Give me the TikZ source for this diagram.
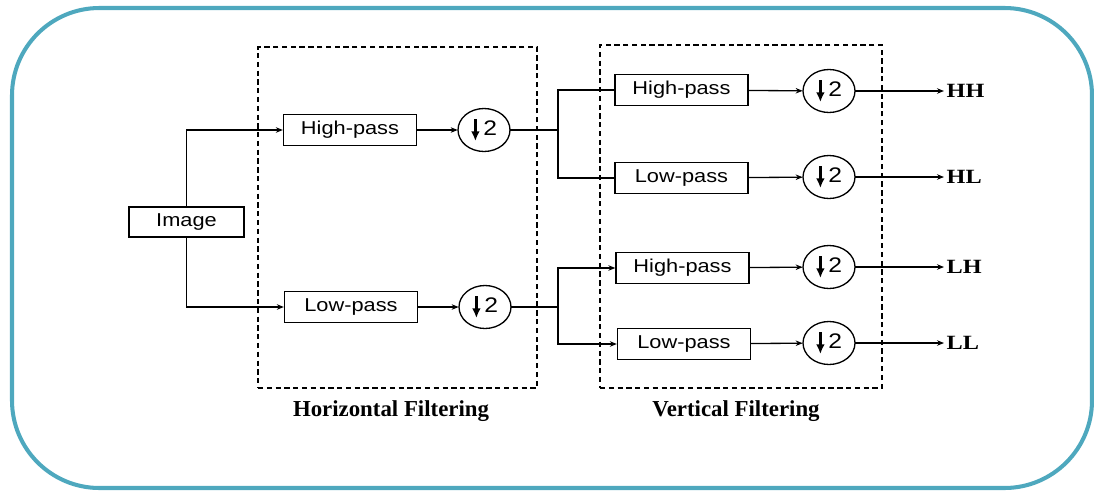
\documentclass[tikz,border=0pt]{standalone}
\usepackage{fontspec}
\setmainfont{Liberation Serif}
\newfontfamily\boxfont[FakeStretch=1.17]{Liberation Sans}
\newfontfamily\labfont[FakeStretch=1.2]{Liberation Serif}
\usetikzlibrary{arrows.meta,shapes.geometric}
\definecolor{frame}{RGB}{78,168,190}
\newcommand{\dsarrow}{\tikz[baseline=0pt]\draw[line width=1.4pt,-{Latex[length=5.5pt,width=5pt]}] (0pt,9.5pt) -- (0pt,-3pt);}
\begin{document}
\begin{tikzpicture}[x=0.02cm,y=-0.02cm,
  line width=0.75pt,
  arr/.style={-{Stealth[length=0.14cm,width=0.11cm]}},
  filt/.style={draw,minimum width=2.66cm,minimum height=0.62cm,inner sep=0pt,
    font=\boxfont\fontsize{10.6}{12}\selectfont},
  down/.style={draw,ellipse,minimum width=1.04cm,minimum height=0.86cm,inner sep=0pt,
    font=\boxfont\fontsize{12}{12}\selectfont},
  outlab/.style={anchor=west,inner sep=0.04cm,font=\labfont\bfseries\fontsize{11.5}{14}\selectfont},
  grouplab/.style={font=\bfseries\fontsize{13}{15}\selectfont},
  group/.style={draw,dashed,dash pattern=on 3pt off 2pt,line width=0.8pt}]
\useasboundingbox (0,0) rectangle (1094,490);
\draw[frame,line width=2.3pt,rounded corners=1.75cm] (12,8) rectangle (1092,488);
% group boxes
\node[group,minimum width=5.58cm,minimum height=6.82cm] (hbox) at (397.5,217.5) {};
\node[group,minimum width=5.64cm,minimum height=6.86cm] (vbox) at (741,216.5) {};
\node[grouplab] (hlab) at (391,411) {Horizontal Filtering};
\node[grouplab] (vlab) at (736,411) {Vertical Filtering};
% first stage
\node[filt,minimum width=2.3cm,minimum height=0.6cm] (img) at (186.5,222) {Image};
\node[filt] (hp1) at (350,130) {High-pass};
\node[filt] (lp1) at (351,307) {Low-pass};
\node[down] (c1) at (484,130) {\dsarrow\,2};
\node[down] (c2) at (485,307) {\dsarrow\,2};
% second stage
\node[filt] (hh) at (681.5,90) {High-pass};
\node[filt] (hl) at (681.5,178) {Low-pass};
\node[filt] (lh) at (682.5,268) {High-pass};
\node[filt] (ll) at (684,344) {Low-pass};
\node[down] (d1) at (829,91) {\dsarrow\,2};
\node[down] (d2) at (829,177) {\dsarrow\,2};
\node[down] (d3) at (829,267) {\dsarrow\,2};
\node[down] (d4) at (829,343) {\dsarrow\,2};
\node[outlab] (ohh) at (944,91) {HH};
\node[outlab] (ohl) at (944,177) {HL};
\node[outlab] (olh) at (944,267) {LH};
\node[outlab] (oll) at (944,343) {LL};
\coordinate (b1) at (558,130);
\coordinate (b2) at (558,307);
% connectors
\draw[arr] (img.north) |- (hp1.west);
\draw[arr] (img.south) |- (lp1.west);
\draw[arr] (hp1) -- (c1);
\draw[arr] (lp1) -- (c2);
\draw (c1) -- (b1);
\draw (c2) -- (b2);
\draw (b1) |- (hh.west);
\draw (b1) |- (hl.west);
\draw[arr] (b2) |- (lh.west);
\draw[arr] (b2) |- (ll.west);
\draw[arr] (hh) -- (d1);
\draw[arr] (hl) -- (d2);
\draw[arr] (lh) -- (d3);
\draw[arr] (ll) -- (d4);
\draw[arr] (d1) -- (ohh);
\draw[arr] (d2) -- (ohl);
\draw[arr] (d3) -- (olh);
\draw[arr] (d4) -- (oll);
\end{tikzpicture}
\end{document}
